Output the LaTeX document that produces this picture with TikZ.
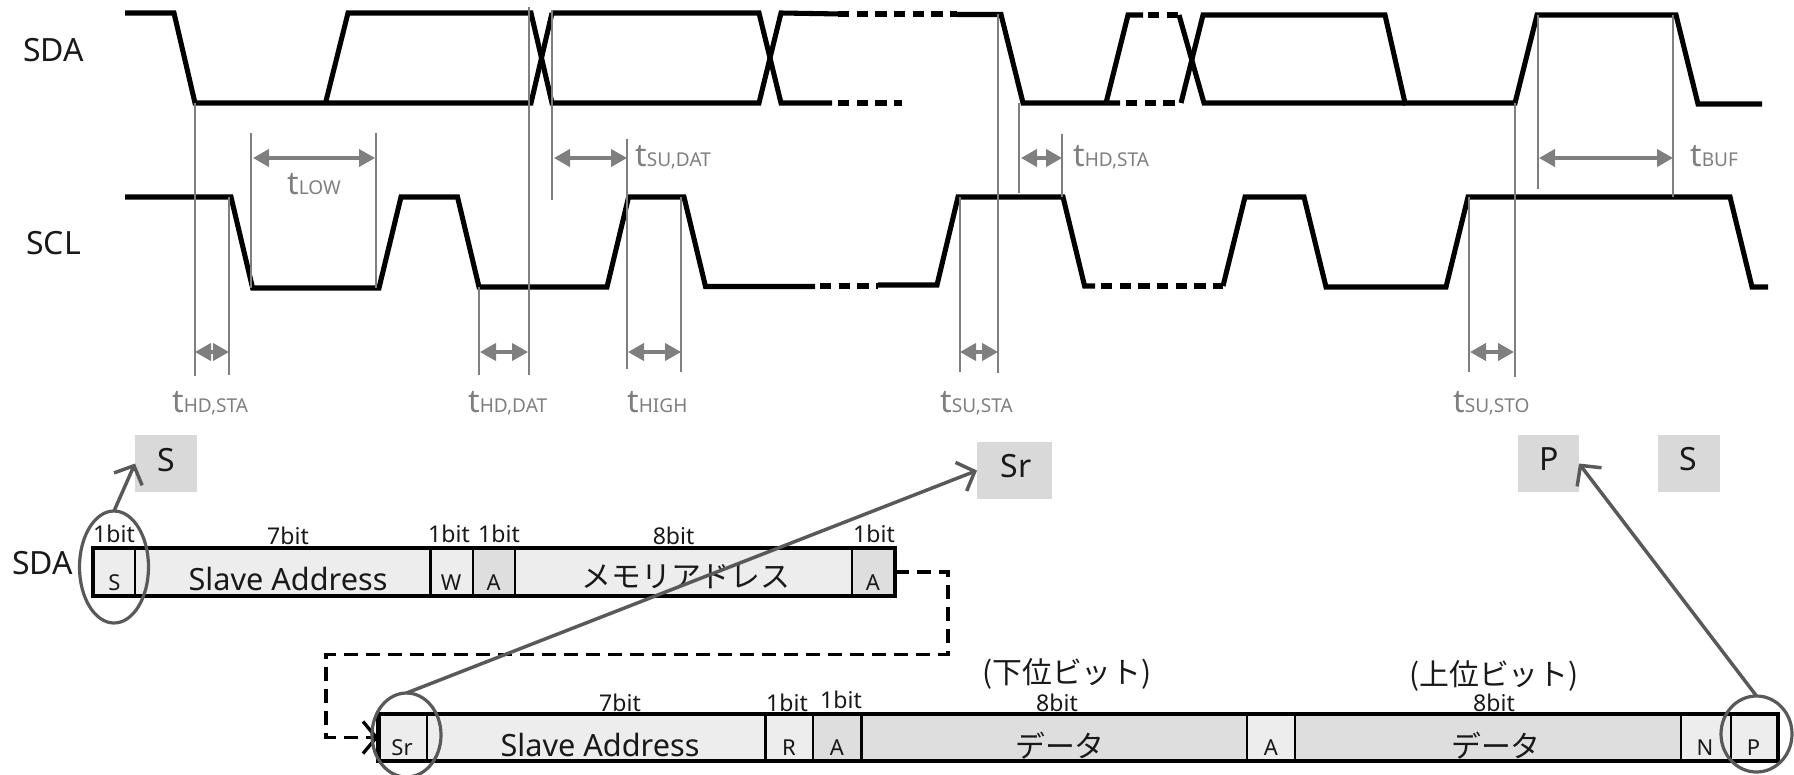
\documentclass[tikz,border=0pt]{standalone}
\usepackage{fontspec}
\setmainfont{Noto Sans}
\newfontfamily\cjk{Noto Sans CJK JP}
\usetikzlibrary{arrows.meta,fit,shapes.geometric}
\definecolor{tgray}{HTML}{7F7F7F}
\definecolor{cellA}{HTML}{EDEDED}
\definecolor{cellB}{HTML}{DEDEDE}
\definecolor{tagbox}{HTML}{D9D9D9}
\definecolor{ringc}{HTML}{595959}
\newcommand{\fzbig}{\fontsize{24}{24}\selectfont}
\newcommand{\fzaddr}{\fontsize{23}{23}\selectfont}
\newcommand{\fzbit}{\fontsize{17.3}{18}\selectfont}
\newcommand{\fzcell}{\fontsize{16.5}{17}\selectfont}
\newcommand{\fzjp}{\cjk\fontsize{22.4}{23}\selectfont}
\newcommand{\tlab}[4]{\node[tlabel] (#1) at (#2,#3) {{\fontsize{24}{24}\selectfont t}{\fontsize{14.3}{14.3}\selectfont #4}};}
\newcommand{\bitcell}[6]{\node[cellbox,fill=#6,fit={(#2,#4)(#3,#5)}] (#1) {};}
\tikzset{
  x=0.75pt,y=-0.75pt,
  trace/.style={line width=3.8pt,black,line join=miter,miter limit=10},
  tracedash/.style={trace,dash pattern=on 8.5pt off 5.5pt},
  guide/.style={line width=1.5pt,tgray},
  span/.style={line width=2.3pt,tgray,{Triangle[length=12pt,width=13pt]}-{Triangle[length=12pt,width=13pt]}},
  tlabel/.style={inner sep=0,anchor=base west,text=tgray},
  cellbox/.style={draw=black,line width=2.2pt,inner sep=0,outer sep=0},
  frameline/.style={draw=black,line width=3.4pt,inner sep=0,outer sep=0},
  base text/.style={inner sep=0,anchor=base,text=black!90},
  bit/.style={base text,font=\fzbit},
  cellt/.style={base text,font=\fzcell},
  big/.style={base text,font=\fzbig},
  addr/.style={base text,font=\fzaddr},
  jp/.style={inner sep=0,anchor=center,text=black!90,font=\fzjp},
  tag/.style={fill=tagbox,inner sep=0,outer sep=0},
  ring/.style={draw=ringc,line width=2.4pt,ellipse,inner sep=0,outer sep=0},
  pointer/.style={draw=ringc,line width=2.6pt,-{Straight Barb[length=11pt,width=23pt]}},
  jump/.style={draw=black,line width=2.5pt,dash pattern=on 10.5pt off 6pt,-{Straight Barb[length=10pt,width=24pt,line width=2.5pt]}}
}
\begin{document}
\begin{tikzpicture}
\useasboundingbox (0,0) rectangle (1794,774);
% SDA trace
\draw[trace] (125,13) -- (174,13) -- (195,103) -- (528,103) -- (531,103) -- (552,13);
\draw[trace] (325.5,103) -- (348,13) -- (531,13) -- (552,103) -- (759,103) -- (781,13) -- (841,14);
\draw[trace] (553,13) -- (759,13) -- (781,103) -- (832,103);
\draw[tracedash] (838,14) -- (957,14);
\draw[tracedash] (838,103) -- (902,103);
\draw[trace] (957,14.5) -- (1001,14.5) -- (1023,103) -- (1120,103);
\draw[trace] (1106,103) -- (1128,15) -- (1143,15);
\draw[tracedash] (1148,15) -- (1179,15);
\draw[trace] (1179,15) -- (1204,103) -- (1405,103);
\draw[tracedash] (1126,103) -- (1181,103);
\draw[trace] (1181,103) -- (1203,15) -- (1385,15) -- (1405,103) -- (1515,103) -- (1537,15) -- (1676,15) -- (1698,104) -- (1762,104);
% SCL trace
\draw[trace] (125,197) -- (231,197) -- (252.6,288) -- (379,288) -- (401,197) -- (457.5,197) -- (479,287) -- (607,287) -- (628.6,197) -- (684,197) -- (705.5,286.5) -- (815,286.5);
\draw[tracedash] (820,286) -- (878,286);
\draw[trace] (878,285) -- (937,285) -- (958,197) -- (1063,197) -- (1084.6,286) -- (1095,286);
\draw[tracedash] (1101,286) -- (1223,286);
\draw[trace] (1223,286) -- (1245,197) -- (1304,197) -- (1326,287) -- (1446,287) -- (1468,197) -- (1730,197) -- (1752,287) -- (1768,287);
% guides
\draw[guide] (195,103) -- (195,376);
\draw[guide] (229,197) -- (229,375);
\draw[guide] (251.4,133) -- (251.4,288);
\draw[guide] (376,133) -- (376,288);
\draw[guide] (479,287) -- (479,375);
\draw[guide] (528.7,7) -- (528.7,375);
\draw[guide] (551.7,10) -- (551.7,200);
\draw[guide] (627.4,139) -- (627.4,369);
\draw[guide] (681,197) -- (681,372);
\draw[guide] (960,197) -- (960,372);
\draw[guide] (998,14) -- (998,373);
\draw[guide] (1019,103) -- (1019,193);
\draw[guide] (1062,134) -- (1062,197);
\draw[guide] (1468.6,197) -- (1468.6,372);
\draw[guide] (1514.6,103) -- (1514.6,377);
\draw[guide] (1537.5,15) -- (1537.5,189);
\draw[guide] (1673,15) -- (1673,197);
% spans
\draw[span] (253,158) -- (375,158);
\draw[span] (554,158) -- (627,158);
\draw[span] (1021,158) -- (1062,158);
\draw[span] (1539,158) -- (1673,158);
\draw[span] (195,352) -- (229,352);
\draw[span] (480,352) -- (528,352);
\draw[span] (628,352) -- (681,352);
\draw[span] (960,352) -- (998,352);
\draw[span] (1470,352) -- (1514,352);
% timing labels
\tlab{lowlab}{287}{194}{LOW}
\tlab{sudat}{635}{166}{SU,DAT}
\tlab{hdsta2}{1073}{166}{HD,STA}
\tlab{buflab}{1690}{166}{BUF}
\tlab{hdsta1}{172}{412}{HD,STA}
\tlab{hddat}{468}{412}{HD,DAT}
\tlab{highlab}{627}{412}{HIGH}
\tlab{susta}{940}{412}{SU,STA}
\tlab{susto}{1453}{412}{SU,STO}
% signal names
\node[inner sep=0,anchor=base west,text=black!90,font=\fzbig] (sdaup) at (23,61) {SDA};
\node[inner sep=0,anchor=base west,text=black!90,font=\fzbig] (sclup) at (26,254) {SCL};
\node[inner sep=0,anchor=base west,text=black!90,font=\fzbig] (sdalow) at (12,574) {SDA};
% tags
\node[tag,fit={(135,435)(197,492)}] (tagS) {};
\node[tag,fit={(977,442)(1052,499)}] (tagSr) {};
\node[tag,fit={(1518,435)(1579,492)}] (tagP) {};
\node[tag,fit={(1658,435)(1720,492)}] (tagStwo) {};
\node[big] (tagStext) at (166,471) {S};
\node[big] (tagSrtext) at (1016,477) {Sr};
\node[big] (tagPtext) at (1549,470) {P};
\node[big] (tagStwotext) at (1688,470) {S};
% first frame
\bitcell{a1}{93}{135}{548}{596}{cellA}
\bitcell{a2}{135}{430.5}{548}{596}{cellA}
\bitcell{a3}{430.5}{473}{548}{596}{cellA}
\bitcell{a4}{473}{515}{548}{596}{cellB}
\bitcell{a5}{515}{852}{548}{596}{cellA}
\bitcell{a6}{852}{895}{548}{596}{cellB}
\node[frameline,fit={(93,548)(895,596)}] (frameone) {};
\node[cellt] (a1t) at (114.5,590) {S};
\node[addr] (a2t) at (288,590) {Slave Address};
\node[cellt] (a3t) at (451,590) {W};
\node[cellt] (a4t) at (493.6,590) {A};
\node[jp] (a5t) at (686,577) {メモリアドレス};
\node[cellt] (a6t) at (873,590) {A};
\node[bit] (b1) at (114,542) {1bit};
\node[bit] (b2) at (288,544) {7bit};
\node[bit] (b3) at (449,542) {1bit};
\node[bit] (b4) at (499,542) {1bit};
\node[bit] (b5) at (673.6,544) {8bit};
\node[bit] (b6) at (874,542) {1bit};
% second frame
\bitcell{c1}{378.5}{427}{714}{761}{cellA}
\bitcell{c2}{427}{765.5}{714}{761}{cellA}
\bitcell{c3}{765.5}{813}{714}{761}{cellA}
\bitcell{c4}{813}{861.6}{714}{761}{cellB}
\bitcell{c5}{861.6}{1247}{714}{761}{cellB}
\bitcell{c6}{1247}{1295}{714}{761}{cellA}
\bitcell{c7}{1295}{1681}{714}{761}{cellB}
\bitcell{c8}{1681}{1731}{714}{761}{cellA}
\bitcell{c9}{1731}{1778}{714}{761}{cellA}
\node[frameline,fit={(378.5,714)(1778,761)}] (frametwo) {};
\node[cellt] (c1t) at (402,755.7) {Sr};
\node[addr] (c2t) at (600,756) {Slave Address};
\node[cellt] (c3t) at (789,755.7) {R};
\node[cellt] (c4t) at (837,755.7) {A};
\node[jp] (c5t) at (1060,745.7) {データ};
\node[cellt] (c6t) at (1271,755.7) {A};
\node[jp] (c7t) at (1496,745.7) {データ};
\node[cellt] (c8t) at (1705,755.7) {N};
\node[cellt] (c9t) at (1753.5,755.7) {P};
\node[bit] (d1) at (620,711) {7bit};
\node[bit] (d2) at (787,711) {1bit};
\node[bit] (d3) at (841,708) {1bit};
\node[bit] (d4) at (1057,711) {8bit};
\node[bit] (d5) at (1494,711) {8bit};
\node[jp] (lowb) at (1067,674) {(下位ビット)};
\node[jp] (highb) at (1494,676) {(上位ビット)};
% dashed link
\coordinate (j1) at (948,654.7);
\coordinate (j2) at (326,654.7);
\draw[jump] (a6.east) -| (j1) -- (j2) |- (c1.west);
% rings and pointers
\node[ring,minimum width=51.75pt,minimum height=84pt] (ringS) at (114,567) {};
\node[ring,minimum width=51.75pt,minimum height=63pt] (ringSr) at (406.5,735) {};
\node[ring,minimum width=53.25pt,minimum height=57pt] (ringP) at (1756.5,734) {};
\draw[pointer] (ringS.north) -- (tagS.west);
\draw[pointer] (ringSr.north) -- (tagSr.west);
\draw[pointer] (ringP.north) -- (tagP.east);
\end{tikzpicture}
\end{document}
